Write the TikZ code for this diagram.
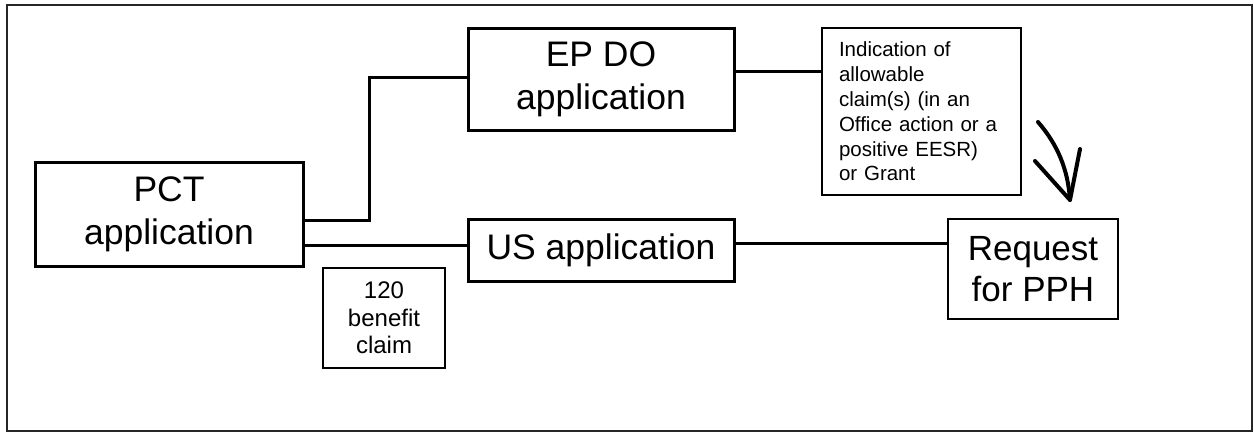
\documentclass[tikz,border=0pt]{standalone}
\usepackage{fontspec}
\setmainfont{Liberation Sans}
\usetikzlibrary{calc}
\begin{document}
\begin{tikzpicture}[x=1pt,y=-1pt,
  bigbox/.style={draw, line width=3pt, align=center, inner sep=0pt, font=\fontsize{35.5}{43}\selectfont},
  thinbox/.style={draw, line width=1.4pt, inner sep=0pt},
  conn/.style={line width=3pt},
  handarrow/.style={line width=4pt, line cap=round, line join=round}]
\useasboundingbox (0,0) rectangle (1254,434);
\draw[line width=1.4pt, black!85] (7,5) rectangle (1252,431);
\node[bigbox, minimum width=268pt, minimum height=104pt] (pct) at (169,214) {PCT\\application};
\node[bigbox, minimum width=266pt, minimum height=102pt] (ep) at (601,79) {EP DO\\application};
\node[bigbox, minimum width=266pt, minimum height=62pt] (us) at (601,250) {US application};
\node[thinbox, minimum width=170pt, minimum height=100pt, align=center, font=\fontsize{35}{41}\selectfont] (req) at (1033,269) {Request\\for PPH};
\node[thinbox, minimum width=199pt, minimum height=167pt, align=left, text width=165pt, font=\fontsize{20.5}{24.8}\selectfont] (ind) at (921.5,111.5) {Indication of\\allowable\\claim(s) (in an\\Office action or a\\positive EESR)\\or Grant};
\node[thinbox, minimum width=122pt, minimum height=100pt, align=center, font=\fontsize{24}{27.5}\selectfont] (ben) at (384,318) {120\\benefit\\claim};
\draw[conn] ($(pct.east)+(0,6)$) -| ($(ep.west)+(-97,-2)$) -- ($(ep.west)+(0,-2)$);
\draw[conn] ($(pct.east)+(0,31)$) coordinate (p2) -- (p2 -| us.west);
\draw[conn] ($(ep.east)+(0,-8)$) coordinate (e1) -- (e1 -| ind.west);
\draw[conn] ($(us.east)+(0,-7)$) coordinate (u1) -- (u1 -| req.west);
\coordinate (tip) at (1070,200);
\coordinate (tail) at (1038,122);
\coordinate (bl) at (1035,161);
\coordinate (br) at (1080,149);
\draw[handarrow] (tail) .. controls (1058,145) and (1068,170) .. (tip);
\draw[handarrow] (bl) -- (tip) -- (br);
\end{tikzpicture}
\end{document}
